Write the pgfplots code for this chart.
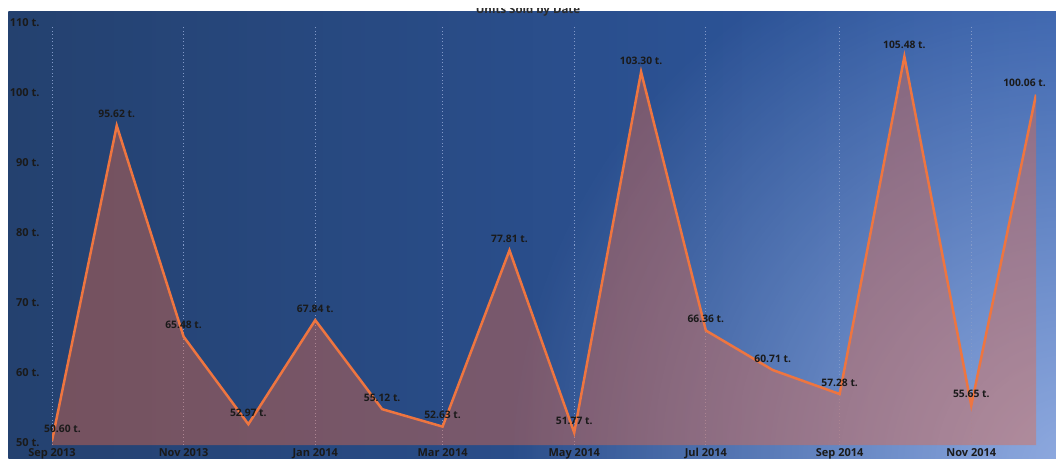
\documentclass[border=0pt]{standalone}
\usepackage{pgfplots}
\pgfplotsset{compat=1.18}
\usepackage{pgfplotstable}
\usepackage{fontspec}
\setmainfont{Open Sans}
\usetikzlibrary{fadings}
\tikzfading[name=myglow, inner color=transparent!0, outer color=transparent!100]
\definecolor{bgL}{HTML}{24416F}
\definecolor{bgR}{HTML}{2F5AA6}
\definecolor{glow}{HTML}{9AB3E6}
\definecolor{lineC}{HTML}{EE7540}
\definecolor{fillC}{RGB}{230,105,70}
\definecolor{txt}{HTML}{1A1A1A}
\definecolor{gridC}{HTML}{8299C8}
\definecolor{titleC}{HTML}{2B2B2B}

\pgfplotstableread{
x y
0 50.60
30 95.62
61 65.48
91 52.97
122 67.84
153 55.12
181 52.63
212 77.81
242 51.77
273 103.30
303 66.36
334 60.71
365 57.28
395 105.48
426 55.65
456 100.06
}\datatable

\begin{document}
\begin{tikzpicture}[x=1pt,y=1pt]
\fill[white] (0,0) rectangle (1056,458);
\begin{scope}
\clip (8.4,0) rectangle (1056,446.5);
\shade[left color=bgL, right color=bgR] (8.4,0) rectangle (1056,446.5);
\fill[glow, path fading=myglow, opacity=0.9] (1070,-10) circle (560);
\end{scope}
\node[font=\fontsize{11.5}{13}\selectfont\bfseries, text=titleC, anchor=base] at (528,444) {Units Sold by Date};
\fill[white] (0,449.5) rectangle (1056,458);

\begin{axis}[
  at={(52pt,13pt)}, anchor=south west,
  scale only axis, width=984pt, height=420pt,
  xmin=0, xmax=456, ymin=50, ymax=110,
  axis line style={draw=none},
  major tick length=0pt,
  xtick={0,61,122,181,242,303,365,426},
  xticklabels={Sep 2013,Nov 2013,Jan 2014,Mar 2014,May 2014,Jul 2014,Sep 2014,Nov 2014},
  ytick={50,60,70,80,90,100,110},
  yticklabels={50 t.,60 t.,70 t.,80 t.,90 t.,100 t.,110 t.},
  xmajorgrids,
  grid style={gridC, line width=0.8pt, dash pattern=on 1pt off 2.5pt},
  tick label style={font=\fontsize{11}{12}\selectfont\bfseries, text=txt},
  yticklabel style={xshift=-9pt, yshift=2.5pt},
  clip mode=individual,
]
\addplot[draw=none, fill=fillC, fill opacity=0.42] table[x=x,y=y] {\datatable} \closedcycle;
\addplot[lineC, line width=2.5pt, line join=miter,
  point meta=y,
  nodes near coords={\pgfmathprintnumber[fixed,fixed zerofill,precision=2,assume math mode=true]{\pgfplotspointmeta}~t.},
  every node near coord/.append style={anchor=center, yshift=11.5pt, inner sep=0pt,
     font=\fontsize{10.3}{12}\selectfont\bfseries, text=txt},
  coordinate style/.condition={x==0}{xshift=10.5pt},
  coordinate style/.condition={x==456}{xshift=-11.5pt},
] table[x=x,y=y] {\datatable};
\end{axis}
\pgfresetboundingbox
\useasboundingbox (0,0) rectangle (1056,458);
\end{tikzpicture}
\end{document}
